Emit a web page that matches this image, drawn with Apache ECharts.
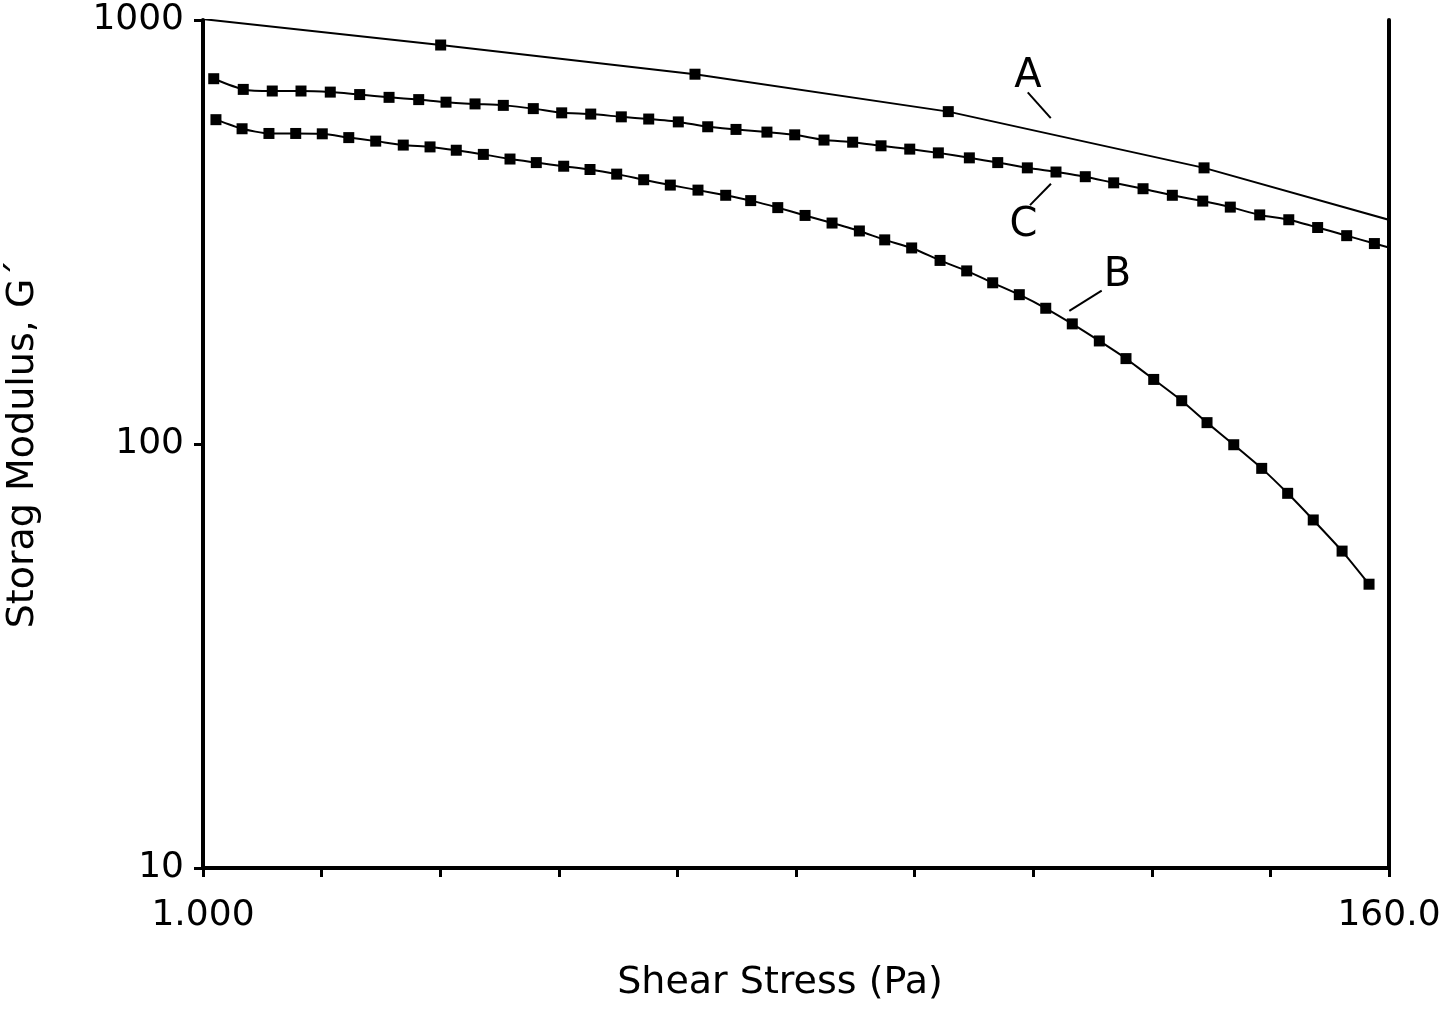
<!DOCTYPE html>
<html><head><meta charset="utf-8">
<script src="https://cdn.jsdelivr.net/npm/echarts@6/dist/echarts.min.js"></script>
<style>html,body{margin:0;padding:0;background:#fff}#c{width:1444px;height:1014px}</style>
</head><body><div id="c"></div>
<script>
const xAxisMin = 1, xAxisMax = 160, xTickCount = 10;
const yAxisMin = 10, yAxisMax = 1000;
const xTickLabels = ['1.000', '160.0'];
const xAxisTitle = 'Shear Stress (Pa)';
const yAxisTitle = 'Storag Modulus, G\u00B4';

// Curve A (points beyond the frame are clipped)
const stressA = [0.93, 2.765, 8.210, 24.27, 72.51, 215];
const modulusA = [1015, 873, 745, 608, 448, 304];

// Curve B
const stressB = [1.057,1.182,1.326,1.487,1.666,1.866,2.094,2.356,2.642,2.956,3.319,3.720,4.163,4.681,5.239,5.873,6.592,7.387,8.316,9.363,10.42,11.70,13.15,14.76,16.59,18.49,20.75,23.43,26.26,29.35,32.89,36.83,41.26,46.32,51.92,58.46,65.90,73.44,82.34,92.80,103.7,115.7,130.9,146.9];
const modulusB = [582,554,540,540,539,528,518,507,502,493,482,470,461,452,444,433,420,408,397,386,375,361,346,332,318,303,290,271,256,240,225,209,192,175,159,142,126.5,112.3,99.6,87.6,76.5,66.2,55.9,46.7];

// Curve C
const stressC = [1.047,1.188,1.345,1.521,1.724,1.955,2.217,2.517,2.829,3.203,3.615,4.110,4.641,5.255,5.990,6.735,7.644,8.669,9.785,11.17,12.58,14.26,16.12,18.20,20.58,23.26,26.56,29.99,34.04,38.48,43.62,49.26,55.85,63.31,72.11,81.13,92.01,104.2,117.9,133.5,150.3,169.7];
const modulusC = [727,686,680,680,676,667,657,649,640,634,629,618,604,600,591,584,575,560,552,544,536,521,515,505,496,486,473,461,448,438,427,413,400,386,374,362,347,338,324,310,297,285];

// Curve labels and leader lines
const labelNames = ['A', 'B', 'C'];
const labelStress = [34.14, 50.06, 33.49];
const labelModulus = [734, 249, 327];
const leaderStress = [[34.10, 37.63], [46.79, 40.74], [37.66, 34.43]];
const leaderModulus = [[675, 587], [230, 206], [411, 366]];

const FONT = 'DejaVu Sans';
const zip = (xs, ys) => xs.map((x, i) => [x, ys[i]]);

const curveSeries = (data, smooth) => ({
  type: 'line', data, smooth, clip: true,
  symbol: 'rect', symbolSize: 11, showSymbol: true,
  itemStyle: { color: '#000', opacity: 1 },
  lineStyle: { color: '#000', width: 2 },
  emphasis: { disabled: true }, z: 3
});

const series = [
  curveSeries(zip(stressA, modulusA), false),
  curveSeries(zip(stressB, modulusB), 0.2),
  curveSeries(zip(stressC, modulusC), 0.2)
];
leaderStress.forEach((xs, i) => {
  series.push({
    type: 'line', data: zip(xs, leaderModulus[i]), symbol: 'none',
    lineStyle: { color: '#000', width: 2 }, emphasis: { disabled: true }, silent: true
  });
});
series.push({
  type: 'scatter', symbolSize: 0, silent: true,
  itemStyle: { color: '#000', opacity: 1 },
  data: labelNames.map((n, i) => ({ name: n, value: [labelStress[i], labelModulus[i]] })),
  label: { show: true, position: 'inside', formatter: p => p.name, color: '#000', opacity: 1, fontFamily: FONT, fontSize: 40 }
});

const chart = echarts.init(document.getElementById('c'), null, { renderer: 'canvas' });
chart.setOption({
  animation: false,
  backgroundColor: '#fff',
  grid: { left: 203, right: 55, top: 20, bottom: 146, containLabel: false, outerBoundsMode: 'none' },
  xAxis: {
    type: 'log', logBase: Math.pow(xAxisMax / xAxisMin, 1 / xTickCount),
    min: xAxisMin, max: xAxisMax, interval: 1,
    name: xAxisTitle, nameLocation: 'middle', nameGap: 96,
    nameTextStyle: { fontFamily: FONT, fontSize: 38, color: '#000', padding: [0, 32, 0, 0] },
    axisLine: { show: true, onZero: false, lineStyle: { color: '#000', width: 4 } },
    axisTick: { show: true, length: 9, lineStyle: { color: '#000', width: 3 } },
    axisLabel: {
      fontFamily: FONT, fontSize: 36, color: '#000', margin: 30,
      showMinLabel: true, showMaxLabel: true, hideOverlap: false,
      formatter: (v, i) => i === 0 ? xTickLabels[0] : (Math.abs(v - xAxisMax) < 0.5 ? xTickLabels[1] : '')
    },
    splitLine: { show: false }
  },
  yAxis: [{
    type: 'log', logBase: 10, min: yAxisMin, max: yAxisMax,
    name: yAxisTitle, nameLocation: 'middle', nameGap: 161, nameRotate: 90,
    nameTextStyle: { fontFamily: FONT, fontSize: 38, color: '#000' },
    axisLine: { show: true, lineStyle: { color: '#000', width: 4 } },
    axisTick: { show: true, length: 9, lineStyle: { color: '#000', width: 3 } },
    axisLabel: { fontFamily: FONT, fontSize: 36, color: '#000', margin: 19, formatter: v => String(Math.round(v)) },
    splitLine: { show: false }
  }, {
    type: 'log', logBase: 10, min: yAxisMin, max: yAxisMax, position: 'right',
    axisLine: { show: true, lineStyle: { color: '#000', width: 4 } },
    axisTick: { show: false }, axisLabel: { show: false }, splitLine: { show: false }
  }],
  series
});
</script></body></html>
